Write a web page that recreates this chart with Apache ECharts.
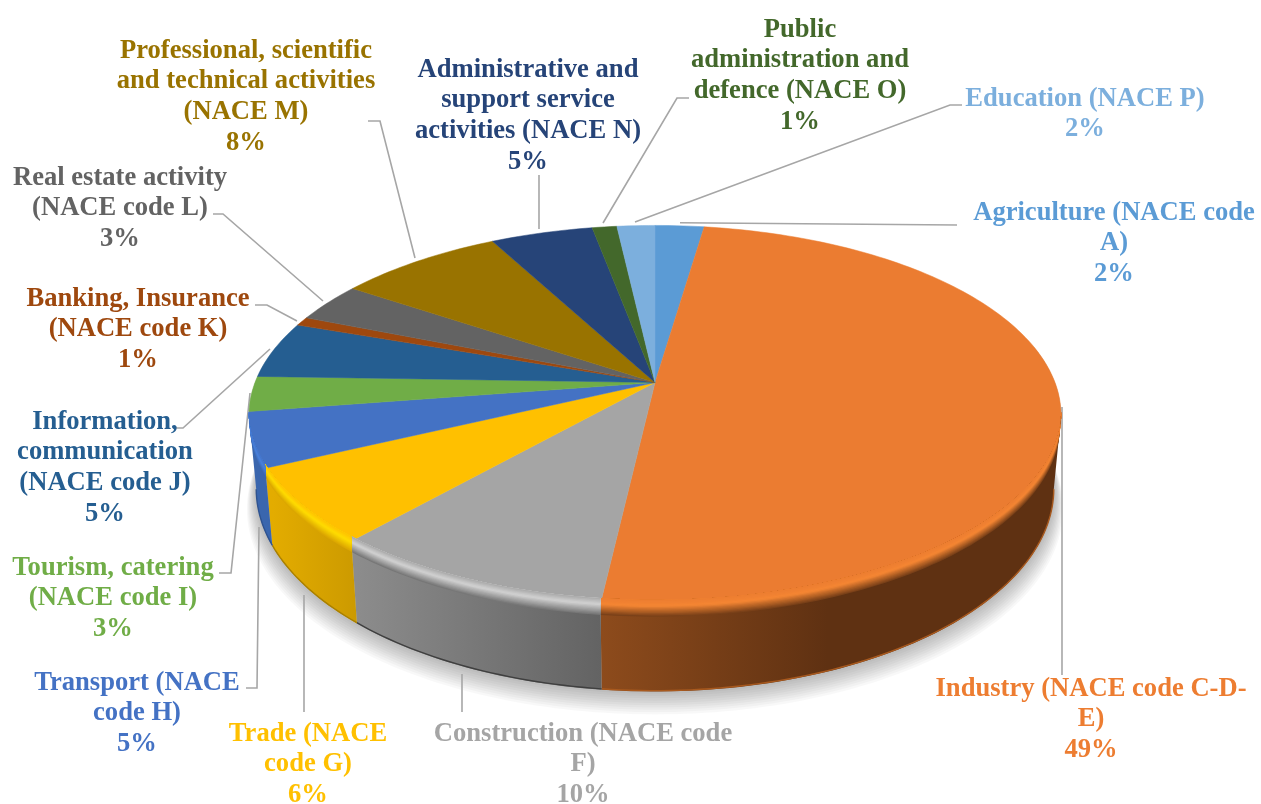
<!DOCTYPE html>
<html>
<head>
<meta charset="utf-8">
<title>NACE sectors</title>
<style>
  html, body { margin: 0; padding: 0; background: #fff; }
  #chart { width: 1261px; height: 804px; }
</style>
<script src="https://cdn.jsdelivr.net/npm/echarts@6/dist/echarts.min.js"></script>
</head>
<body>
<div id="chart"></div>
<script>
// slices run clockwise from 12 o'clock
var categories = [
  'Agriculture (NACE code\nA)',
  'Industry (NACE code C-D-\nE)',
  'Construction (NACE code\nF)',
  'Trade (NACE\ncode G)',
  'Transport (NACE\ncode H)',
  'Tourism, catering\n(NACE code I)',
  'Information,\ncommunication\n(NACE code J)',
  'Banking, Insurance\n(NACE code K)',
  'Real estate activity\n(NACE code L)',
  'Professional, scientific\nand technical activities\n(NACE M)',
  'Administrative and\nsupport service\nactivities (NACE N)',
  'Public\nadministration and\ndefence (NACE O)',
  'Education (NACE P)'
];
var shares = [2.3, 49.5, 9.7, 6.4, 4.65, 2.98, 4.82, 0.75, 3.36, 7.79, 4.81, 1.16, 1.78];
var printed = ['2%', '49%', '10%', '6%', '5%', '3%', '5%', '1%', '3%', '8%', '5%', '1%', '2%'];

var faceColors = ['#5b9bd5', '#eb7c31', '#a5a5a5', '#ffc000', '#4472c4', '#70ad47', '#255e91', '#9e480e', '#636363', '#997300', '#264478', '#43682b', '#7cafdd'];
var labelColors = ['#5b9bd5', '#ed7d31', '#a5a5a5', '#ffc000', '#4472c4', '#70ad47', '#255e91', '#9e480e', '#636363', '#997300', '#264478', '#43682b', '#7cafdd'];
var bevelHi = ['#6aa8e0', '#f58633', '#d2d2d2', '#ffdc00', '#4a82de', '#7cc04e', '#255e91', '#9e480e', '#636363', '#997300', '#264478', '#43682b', '#7cafdd'];
var bevelLo = ['#3f6d96', '#7a4119', '#777777', '#dba600', '#3a66ae', '#4f7a32', '#255e91', '#9e480e', '#636363', '#997300', '#264478', '#43682b', '#7cafdd'];
var wallFrom = ['#3f6d96', '#8d4b1c', '#8c8c8c', '#e3ac00', '#3a66ae', '#4f7a32', '#1a4266', '#6f320a', '#464646', '#6b5100', '#1b3054', '#2f491e', '#577b9b'];
var wallTo = ['#3f6d96', '#5f3112', '#636363', '#cc9a00', '#3a66ae', '#4f7a32', '#1a4266', '#6f320a', '#464646', '#6b5100', '#1b3054', '#2f491e', '#577b9b'];
var wallEdge = ['#3f6d96', '#a8591e', '#3f3f3f', '#a87f00', '#2f5390', '#4f7a32', '#1a4266', '#6f320a', '#464646', '#6b5100', '#1b3054', '#2f491e', '#577b9b'];

// centre x and first line y of every label
var labelPos = [[1114, 213], [1091, 689], [583, 734], [308, 734], [137, 683], [113, 568], [105, 422], [138, 299], [120, 178], [246, 51], [528, 70], [800, 30], [1085, 99]];
var leaders = [
  [[680, 222.7], [957, 225]],
  [[1062, 407], [1062, 675]],
  [[462, 674], [462, 712]],
  [[304, 595], [304, 712]],
  [[259, 527], [257, 688], [246, 688]],
  [[250, 393], [231, 573], [219, 573]],
  [[270, 349], [183, 428], [173, 428]],
  [[297, 321], [267, 305], [255, 305]],
  [[323, 301], [223, 214], [213, 214]],
  [[415, 258], [380, 121], [368, 121]],
  [[539, 229], [539, 175]],
  [[603, 223], [677, 98], [689, 98]],
  [[635, 222], [950, 105], [962, 105]]
];

// camera: apex of the pie, radii, perspective and thickness
var apexX = 655, apexY = 382.5, radX = 400, radY = 184, persp = 0.1715, thick = 72;
var bevelTop = -4, bevelBottom = 10;
// the drum is only visible between these two points of the rim
var sideRight = 27.8, sideLeft = 72.2;

function project(pct, h, grow) {
  var a = pct / 100 * 2 * Math.PI;
  var w = 1 + persp * Math.cos(a);
  var shrink = 1 - 0.018 * h / thick + (grow || 0);
  return [apexX + radX * shrink * Math.sin(a) / w, apexY - radY * Math.cos(a) / w + h / w];
}

function arc(from, to, h, grow) {
  var pts = [];
  var n = Math.max(2, Math.ceil((to - from) * 3));
  for (var i = 0; i <= n; i++) pts.push(project(from + (to - from) * i / n, h, grow));
  return pts;
}

function mix(c1, c2, t) {
  var a = echarts.color.parse(c1), b = echarts.color.parse(c2);
  return 'rgb(' + [0, 1, 2].map(function (k) {
    return Math.round(a[k] + (b[k] - a[k]) * t);
  }).join(',') + ')';
}

var total = shares.reduce(function (s, v) { return s + v; }, 0);
var running = 0;
var sliceData = shares.map(function (v, i) {
  var start = running;
  running += v / total * 100;
  return [i, start, running];
});

// soft shadow under the drum, stacked see-through layers
function renderShadow(params, api) {
  var children = [];
  for (var k = 10; k >= 1; k--) {
    children.push({
      type: 'polygon',
      shape: { points: arc(sideRight - 6, sideLeft + 6, thick + k * 1.9, k * 0.0028).concat(arc(sideRight - 6, sideLeft + 6, 0).reverse()) },
      style: { fill: 'rgba(0,0,0,0.026)' }
    });
  }
  return { type: 'group', children: children };
}

function renderWall(params, api) {
  var i = api.value(0);
  var from = Math.max(api.value(1), sideRight), to = Math.min(api.value(2), sideLeft);
  if (to <= from) return { type: 'group', children: [] };
  var bottom = arc(from, to, thick);
  var xs = bottom.map(function (p) { return p[0]; });
  var x0 = Math.min.apply(null, xs), x1 = Math.max.apply(null, xs);
  var leftColor = wallFrom[i], rightColor = wallTo[i];
  var stops = i === 1
    ? [{ offset: 0, color: leftColor }, { offset: 0.5, color: rightColor }, { offset: 1, color: rightColor }]
    : [{ offset: 0, color: leftColor }, { offset: 1, color: rightColor }];
  return {
    type: 'group',
    children: [{
      type: 'polygon',
      shape: { points: bottom.concat(arc(from, to, 0).reverse()) },
      style: { fill: new echarts.graphic.LinearGradient(x0, 0, x1, 0, stops, true) }
    }, {
      type: 'polyline',
      shape: { points: arc(from, to, thick - 0.7) },
      style: { fill: null, stroke: wallEdge[i], lineWidth: 1.4 }
    }]
  };
}

function renderFace(params, api) {
  var i = api.value(0);
  var pts = [[apexX, apexY]].concat(arc(api.value(1), api.value(2), 0));
  return {
    type: 'polygon',
    shape: { points: pts },
    style: { fill: faceColors[i], stroke: faceColors[i], lineWidth: 0.5 }
  };
}

// rounded edge between top and wall, painted from the outside in
function renderBevel(params, api) {
  var i = api.value(0);
  var from = Math.max(api.value(1), sideRight), to = Math.min(api.value(2), sideLeft);
  if (to <= from) return { type: 'group', children: [] };
  var children = [];
  for (var k = 14; k >= 1; k--) {
    var t = k / 14;
    var col = t < 0.4 ? mix(faceColors[i], bevelHi[i], t / 0.4) : mix(bevelHi[i], bevelLo[i], (t - 0.4) / 0.6);
    children.push({
      type: 'polygon',
      shape: { points: arc(from, to, bevelTop + (bevelBottom - bevelTop) * t).concat(arc(from, to, bevelTop).reverse()) },
      style: { fill: col }
    });
  }
  return { type: 'group', children: children };
}

function renderLeader(params, api) {
  return {
    type: 'polyline',
    shape: { points: leaders[api.value(0)] },
    style: { fill: null, stroke: '#a6a6a6', lineWidth: 1.6 }
  };
}

function renderLabel(params, api) {
  var i = api.value(0);
  var lineH = 30.6;
  return {
    type: 'text',
    style: {
      text: categories[i] + '\n' + printed[i],
      x: labelPos[i][0],
      y: labelPos[i][1] - lineH / 2,
      fill: labelColors[i],
      font: 'bold 26.6px "Liberation Serif", serif',
      lineHeight: lineH,
      align: 'center',
      verticalAlign: 'top'
    }
  };
}

function customSeries(render, data, z) {
  return { type: 'custom', coordinateSystem: 'none', renderItem: render, data: data, z: z, silent: true, animation: false, clip: false };
}

var chart = echarts.init(document.getElementById('chart'));
chart.setOption({
  backgroundColor: '#fff',
  animation: false,
  series: [
    customSeries(renderShadow, [[0, 0, 100]], 1),
    customSeries(renderLeader, sliceData, 2),
    customSeries(renderWall, sliceData, 3),
    customSeries(renderFace, sliceData, 4),
    customSeries(renderBevel, sliceData, 5),
    customSeries(renderLabel, sliceData, 6)
  ]
});
</script>
</body>
</html>
